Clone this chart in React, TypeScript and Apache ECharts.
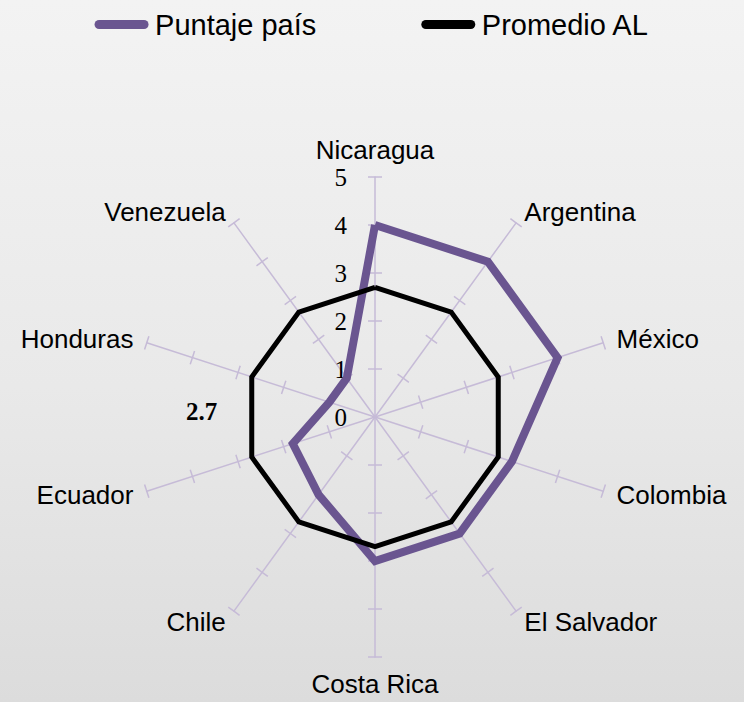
import React, { useEffect, useRef } from "react";
import * as echarts from "echarts";

const countries = [
  "Nicaragua",
  "Argentina",
  "México",
  "Colombia",
  "El Salvador",
  "Costa Rica",
  "Chile",
  "Ecuador",
  "Honduras",
  "Venezuela",
];
const puntajePais = [4, 4, 4, 3, 3, 3, 2, 1.8, 1, 1];
const promedioAL = [2.7, 2.7, 2.7, 2.7, 2.7, 2.7, 2.7, 2.7, 2.7, 2.7];
const seriesNames = ["Puntaje país", "Promedio AL"];
const tickValues = [1, 2, 3, 4, 5];
const maxValue = 5;
const avgLabel = "2.7";

const PURPLE = "#6a5590";
const AXIS = "#c6bbd7";

// ECharts radar runs counter-clockwise; reorder so the countries go clockwise
const order = countries.map((_, i) => (i === 0 ? 0 : countries.length - i));
const reorder = <T,>(arr: T[]) => order.map((i) => arr[i]);

export default function App() {
  const ref = useRef<HTMLDivElement>(null);
  useEffect(() => {
    if (!ref.current) return;
    const chart = echarts.init(ref.current, null, { renderer: "svg" });
    const names = reorder(countries);
    const indicatorMain = names.map((c, i) => ({
      name: c,
      min: 0,
      max: maxValue,
      ...(i === 0 ? { axisLabel: { show: true } } : {}),
    }));
    const indicatorTicks = names.map((c) => ({ name: c, min: 0, max: maxValue }));
    const common = {
      center: [375, 417],
      radius: 240,
      startAngle: 90,
      splitNumber: 5,
      shape: "polygon",
      splitLine: { show: false },
      splitArea: { show: false },
    };
    chart.setOption({
      animation: false,
      backgroundColor: "transparent",
      legend: {
        top: 5,
        left: "center",
        itemGap: 105,
        itemWidth: 57,
        itemHeight: 9,
        icon: "path://M5,0 L55,0 A5,5 0 0 1 55,10 L5,10 A5,5 0 0 1 5,0 Z",
        textStyle: { fontFamily: "Liberation Sans", fontSize: 29, color: "#000" },
        data: seriesNames,
      },
      radar: [
        {
          ...common,
          indicator: indicatorMain,
          nameGap: 14,
          axisName: { color: "#000", fontSize: 26, fontFamily: "Liberation Sans" },
          axisLine: { lineStyle: { color: AXIS, width: 1.5 } },
          axisTick: {
            show: true,
            length: 7,
            customValues: tickValues,
            lineStyle: { color: AXIS, width: 1.5 },
          },
          axisLabel: {
            show: false,
            margin: 28,
            color: "#000",
            fontSize: 25,
            fontFamily: "Liberation Serif",
          },
        },
        {
          ...common,
          indicator: indicatorTicks,
          axisName: { show: false },
          axisLine: { show: false },
          axisTick: {
            show: true,
            length: -7,
            customValues: tickValues,
            lineStyle: { color: AXIS, width: 1.5 },
          },
          axisLabel: { show: false },
        },
      ],
      graphic: [
        {
          type: "text",
          left: 186,
          top: 399,
          style: {
            text: avgLabel,
            fontFamily: "Liberation Serif",
            fontWeight: "bold",
            fontSize: 25,
            fill: "#000",
          },
        },
      ],
      series: [
        {
          type: "radar",
          radarIndex: 0,
          symbol: "none",
          data: [
            {
              name: seriesNames[0],
              value: reorder(puntajePais),
              lineStyle: { color: PURPLE, width: 8, join: "miter" },
              itemStyle: { color: PURPLE },
            },
            {
              name: seriesNames[1],
              value: reorder(promedioAL),
              lineStyle: { color: "#000", width: 5, join: "miter" },
              itemStyle: { color: "#000" },
            },
          ],
        },
      ],
    });
    return () => chart.dispose();
  }, []);
  return (
    <div
      style={{
        position: "fixed",
        left: 0,
        top: 0,
        width: 744,
        height: 702,
        background: "linear-gradient(180deg, #f3f3f3 0%, #e9e9e9 55%, #dcdcdc 100%)",
      }}
    >
      <div ref={ref} style={{ width: 744, height: 702 }} />
    </div>
  );
}
